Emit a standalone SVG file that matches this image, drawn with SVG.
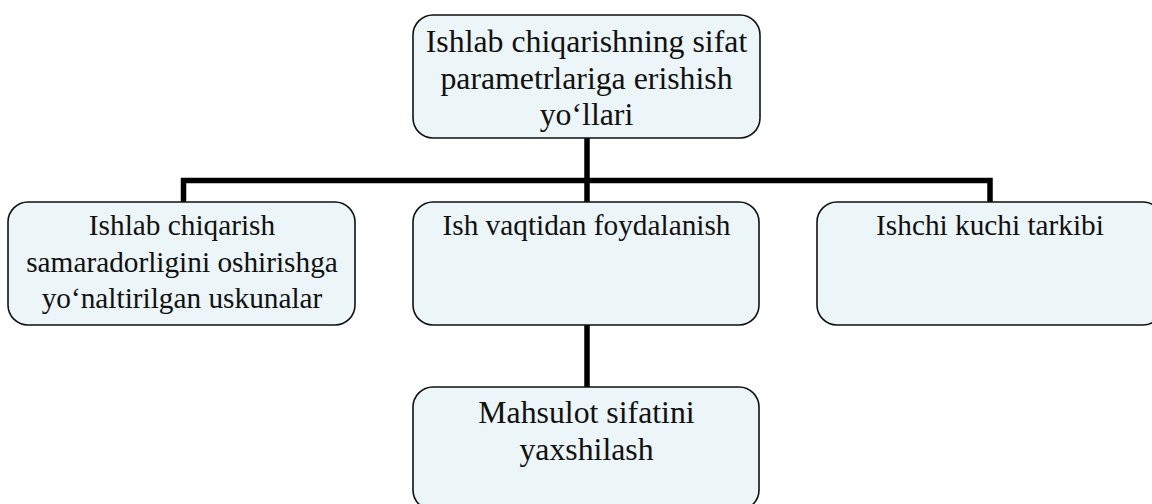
<svg xmlns="http://www.w3.org/2000/svg" width="1152" height="504" viewBox="0 0 1152 504">
  <style>
    .box { fill: #ECF5F7; stroke: #111; stroke-width: 1.6; }
    .lbl { font-family: "Liberation Serif", "Times New Roman", Times, serif; font-size: 29.3px; fill: #111; text-anchor: middle; }
    .big { font-size: 31.8px; }
    .conn { fill: none; stroke: #000; stroke-width: 5.5; stroke-linejoin: miter; }
  </style>
  <rect width="1152" height="504" fill="#fff"/>
  <g id="connectors">
    <path class="conn" d="M587,138 V202"/>
    <path class="conn" d="M183.5,202 V180.5 H990 V202"/>
    <path class="conn" d="M587,325 V387"/>
  </g>
  <g id="node-top">
    <rect class="box" x="413" y="15" width="347" height="123" rx="20" ry="20"/>
    <text class="lbl big" x="586.5" y="52">Ishlab chiqarishning sifat</text>
    <text class="lbl big" x="586.5" y="88.5">parametrlariga erishish</text>
    <text class="lbl big" x="586.5" y="125">yo‘llari</text>
  </g>
  <g id="node-left">
    <rect class="box" x="8" y="202" width="347" height="123" rx="20" ry="20"/>
    <text class="lbl" x="182" y="235">Ishlab chiqarish</text>
    <text class="lbl" x="182" y="271.5">samaradorligini oshirishga</text>
    <text class="lbl" x="182" y="308">yo‘naltirilgan uskunalar</text>
  </g>
  <g id="node-middle">
    <rect class="box" x="413" y="202" width="346" height="123" rx="20" ry="20"/>
    <text class="lbl" x="586.5" y="235">Ish vaqtidan foydalanish</text>
  </g>
  <g id="node-right">
    <rect class="box" x="817" y="202" width="346" height="123" rx="20" ry="20"/>
    <text class="lbl" x="990" y="235">Ishchi kuchi tarkibi</text>
  </g>
  <g id="node-bottom">
    <rect class="box" x="413" y="387" width="346" height="123" rx="20" ry="20"/>
    <text class="lbl big" x="586.5" y="423">Mahsulot sifatini</text>
    <text class="lbl big" x="586.5" y="459.5">yaxshilash</text>
  </g>
</svg>
